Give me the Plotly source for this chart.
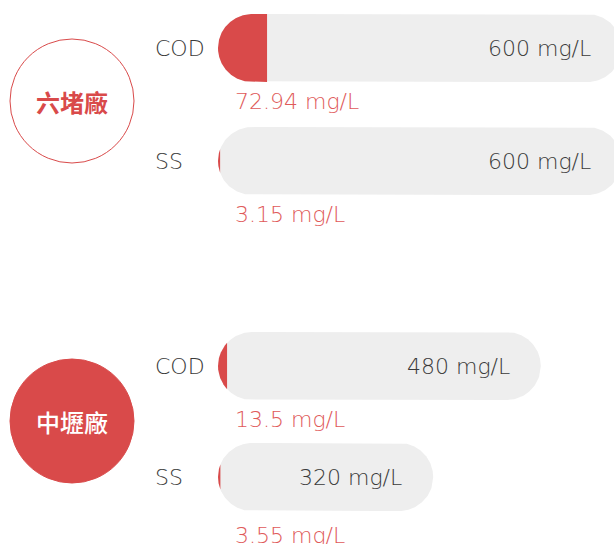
import numpy as np
import plotly.graph_objects as go

# ---- data ----
plants = ["六堵廠", "中壢廠"]
params = ["COD", "SS"]
limits = [[600, 600], [480, 320]]          # discharge limit (mg/L)
values = [[72.94, 3.15], [13.5, 3.55]]     # measured value (mg/L)
unit = "mg/L"

# ---- layout constants ----
W, H = 614, 544
K = 0.6725            # px per mg/L
BAR_X0 = 218          # px where bars start
R = 34                # capsule radius px
plant_cy = [101, 421]
row_cy = [[48, 161], [366, 477]]
val_dy = [[53, 53], [53, 58]]
CIRCLE_CX = 72
RED = "#d94a4a"
RED_TXT = "#e05a5a"
GREY = "#eeeeee"
DARK = "#3a3a3a"
LAT = "DejaVu Sans"
LAT_W = 200
LAT_S = 22

def px2x(px):
    return (px - BAR_X0) / K

def half_h(xd, L):
    xp = xd * K
    Lp = L * K
    if xp < R:
        return np.sqrt(max(R**2 - (R - xp) ** 2, 0))
    if xp > Lp - R:
        return np.sqrt(max(R**2 - (xp - (Lp - R)) ** 2, 0))
    return R

def region(v, L, cy):
    xs = np.linspace(0, v, 400)
    hs = np.array([half_h(x, L) for x in xs])
    px = np.concatenate([xs, xs[::-1], xs[:1]])
    py = np.concatenate([cy - hs, (cy + hs)[::-1], [cy - hs[0]]])
    return px, py

fig = go.Figure()
annotations = []

for i, plant in enumerate(plants):
    filled = i == 1
    fig.add_trace(go.Scatter(
        x=[px2x(CIRCLE_CX)], y=[plant_cy[i]], mode="markers",
        marker=dict(size=124, color=RED if filled else "white",
                    line=dict(color=RED, width=1)),
        hoverinfo="skip", showlegend=False))
    annotations.append(dict(
        x=px2x(CIRCLE_CX), y=plant_cy[i], xref="x", yref="y", text=plant,
        showarrow=False, xanchor="center", yanchor="middle",
        font=dict(family="Noto Sans CJK TC", size=24,
                  color="white" if filled else RED,
                  weight=500 if filled else 700)))
    for j, p in enumerate(params):
        L = limits[i][j]
        v = values[i][j]
        cy = row_cy[i][j]
        gx, gy = region(L, L, cy)
        fig.add_trace(go.Scatter(x=gx, y=gy, mode="lines", fill="toself",
                                 fillcolor=GREY, line=dict(width=0, color=GREY),
                                 hoverinfo="skip", showlegend=False))
        rx, ry = region(v, L, cy)
        fig.add_trace(go.Scatter(x=rx, y=ry, mode="lines", fill="toself",
                                 fillcolor=RED, line=dict(width=0, color=RED),
                                 hoverinfo="skip", showlegend=False))
        annotations.append(dict(
            x=px2x(153), y=cy, xref="x", yref="y", text=p, showarrow=False,
            xanchor="left", yanchor="middle",
            font=dict(family=LAT, size=LAT_S, color=DARK, weight=LAT_W)))
        annotations.append(dict(
            x=L - 29 / K, y=cy, xref="x", yref="y", text=f"{L} {unit}",
            showarrow=False, xanchor="right", yanchor="middle",
            font=dict(family=LAT, size=LAT_S, color=DARK, weight=LAT_W)))
        annotations.append(dict(
            x=px2x(233), y=cy + val_dy[i][j], xref="x", yref="y",
            text=f"{v} {unit}",
            showarrow=False, xanchor="left", yanchor="middle",
            font=dict(family=LAT, size=LAT_S, color=RED_TXT, weight=LAT_W)))

fig.update_layout(
    width=W, height=H, margin=dict(l=0, r=0, t=0, b=0),
    paper_bgcolor="white", plot_bgcolor="white",
    xaxis=dict(range=[px2x(0), px2x(W)], visible=False, fixedrange=True),
    yaxis=dict(range=[H, 0], visible=False, fixedrange=True),
    annotations=annotations, showlegend=False,
)
fig.write_html("out.html", config={"displayModeBar": False},
               post_script="document.body.style.margin='0';document.body.style.overflow='hidden';")
